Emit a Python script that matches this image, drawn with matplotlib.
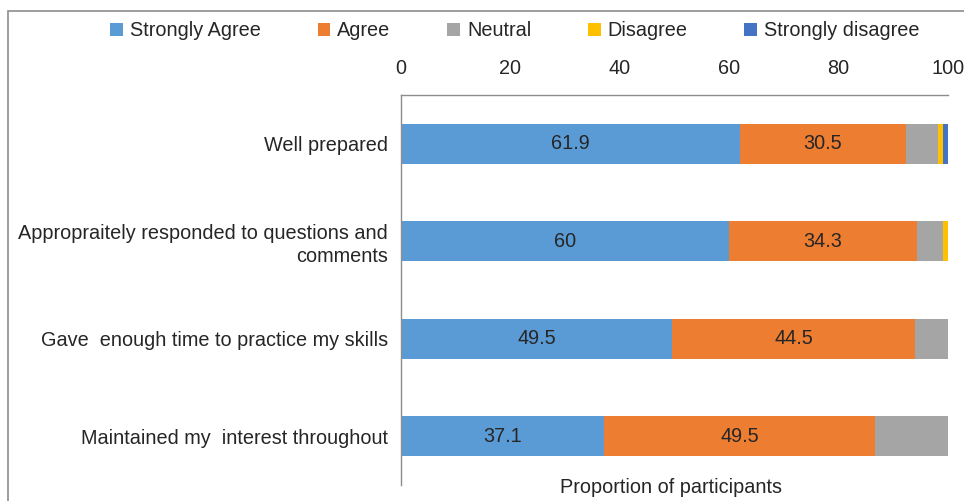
import numpy as np
import matplotlib
matplotlib.use("Agg")
import matplotlib.pyplot as plt
from matplotlib.patches import Rectangle

plt.rcParams['font.family'] = ['Liberation Sans', 'DejaVu Sans']

categories = ['Well prepared',
              'Appropraitely responded to questions and\ncomments',
              'Gave  enough time to practice my skills',
              'Maintained my  interest throughout']
series = ['Strongly Agree', 'Agree', 'Neutral', 'Disagree', 'Strongly disagree']
strongly_agree = [61.9, 60, 49.5, 37.1]
agree = [30.5, 34.3, 44.5, 49.5]
neutral = [5.7, 4.7, 6.0, 13.4]
disagree = [1.0, 1.0, 0, 0]
strongly_disagree = [1.0, 0, 0, 0]
colors = ['#5b9bd5', '#ed7d31', '#a5a5a5', '#ffc000', '#4472c4']
xticks = [0, 20, 40, 60, 80, 100]

fs = 14.3
fig = plt.figure(figsize=(9.64, 5.01), dpi=100)
ax = fig.add_axes([401 / 964, 1 - 485 / 501, 547 / 964, 390 / 501])

y = np.arange(len(categories))
left = np.zeros(len(categories))
for name, vals, c in zip(series, [strongly_agree, agree, neutral, disagree, strongly_disagree], colors):
    bars = ax.barh(y, vals, left=left, height=0.41, color=c, label=name)
    if name in ('Strongly Agree', 'Agree'):
        ax.bar_label(bars, labels=[f'{v:g}' for v in vals], label_type='center',
                     fontsize=fs, color='#262626')
    left += np.array(vals)

ax.set_xlim(0, 100)
ax.set_ylim(3.5, -0.5)
ax.set_yticks(y)
ax.set_yticklabels(categories, linespacing=1.25)
ax.xaxis.tick_top()
ax.set_xticks(xticks)
ax.tick_params(axis='both', length=0, labelsize=fs, colors='#262626')
ax.tick_params(axis='x', pad=12)
ax.tick_params(axis='y', pad=9.5)
for s in ['right', 'bottom']:
    ax.spines[s].set_visible(False)
for s in ['top', 'left']:
    ax.spines[s].set_color('#8c8c8c')
    ax.spines[s].set_linewidth(1.0)

ax.set_xlabel('Proportion of participants', fontsize=fs, color='#262626')
ax.xaxis.set_label_position('bottom')
ax.xaxis.set_label_coords(0.494, -0.007)
ax.xaxis.label.set_va('center')

handles, labels = ax.get_legend_handles_labels()
fig.legend(handles, labels, loc='center', bbox_to_anchor=(515 / 964, 1 - 31 / 501),
           ncol=5, frameon=False, fontsize=fs, handlelength=0.65, handleheight=0.65,
           handletextpad=0.35, columnspacing=2.85, labelcolor='#262626')

# chart border
fig.patches.append(Rectangle((8 / 964, -0.1), 1.2, 1 - 11 / 501 + 0.1, transform=fig.transFigure,
                             fill=False, edgecolor='#8c8c8c', linewidth=1.2))

fig.savefig('out.png', dpi=100)
